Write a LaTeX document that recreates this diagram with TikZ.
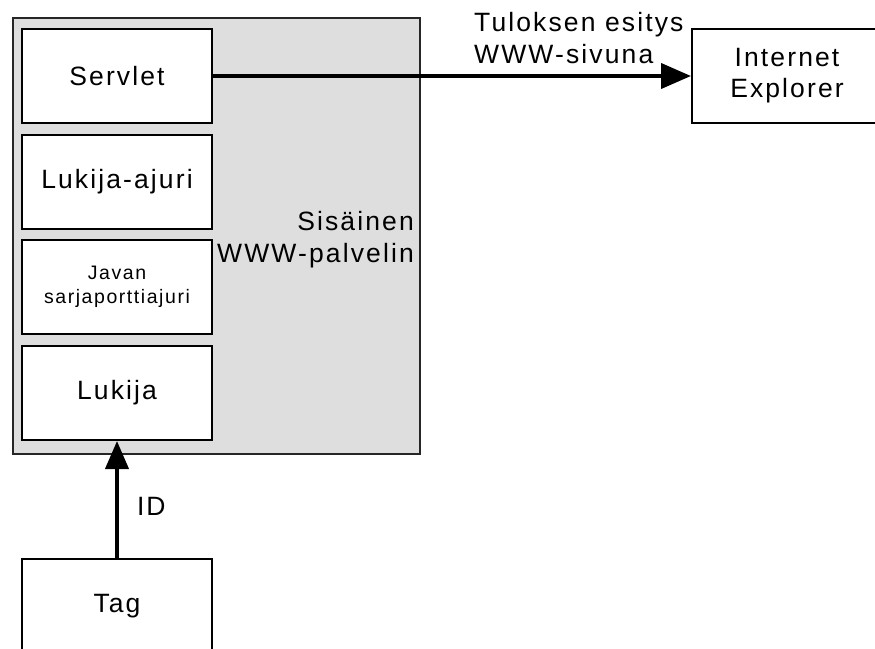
\documentclass[tikz,border=0pt]{standalone}
\usepackage{fontspec}
\setmainfont{Liberation Sans}[LetterSpace=8]
\usetikzlibrary{arrows.meta}

\tikzset{
  box/.style={draw=black, line width=2pt, fill=white, minimum width=190pt,
    minimum height=94pt, inner sep=0pt, align=center,
    font=\fontsize{26.5}{31}\selectfont},
  smalltext/.style={font=\fontsize{19.5}{24}\selectfont},
  server/.style={draw=black!85, line width=2pt, fill=black!13, inner sep=0pt},
  lbl/.style={inner sep=0pt, font=\fontsize{26.5}{32.5}\selectfont},
  flow/.style={line width=4pt, -{Triangle[length=30pt, width=25pt]}},
  upflow/.style={line width=4pt, -{Triangle[length=28pt, width=23pt]}}
}

\begin{document}
\begin{tikzpicture}[x=1pt, y=-1pt]
  \useasboundingbox (0,0) rectangle (875,648);
  \clip (0,0) rectangle (875,648);

  % internal web server enclosing the software stack
  \node[server, minimum width=407pt, minimum height=436pt, anchor=north west]
    (srv) at (12,17) {};
  \node[lbl, anchor=north east, align=right] (srvlbl) at (414,211)
    {Sisäinen\\WWW-palvelin};

  % stack of components
  \node[box] (servlet) at (117,76)  {Servlet};
  \node[box] (ajuri)   at (117,182) {Lukija-ajuri};
  \node[box, smalltext] (javan) at (117,287) {Javan\\sarjaporttiajuri};
  \node[box] (lukija)  at (117,393) {Lukija};

  % external parts
  \node[box] (tag) at (117,606) {Tag};
  \node[box] (ie)  at (787,76)  {Internet\\Explorer};

  % connectors
  \draw[flow] (servlet.east) -- (ie.west);
  \node[lbl, anchor=north west, align=left] (out) at (474,12)
    {Tuloksen esitys\\WWW-sivuna};

  \draw[upflow] (tag.north) -- (lukija.south)
    node[lbl, pos=0.361, anchor=base west, xshift=18pt] (id) {ID};
\end{tikzpicture}
\end{document}
